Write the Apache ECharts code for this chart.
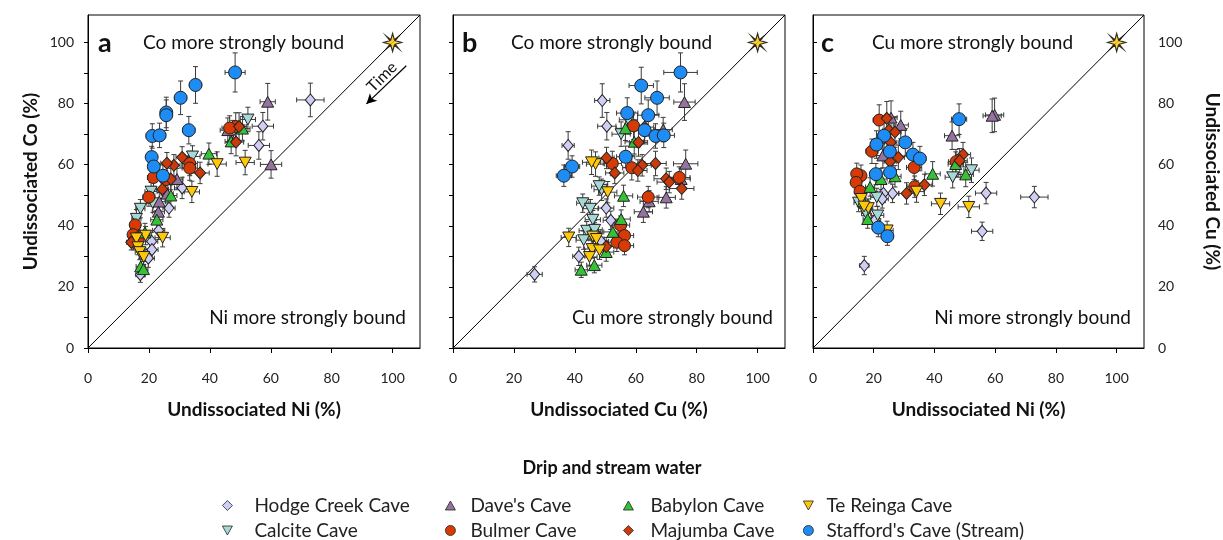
<!DOCTYPE html>
<html><head><meta charset="utf-8">
<script src="https://cdn.jsdelivr.net/npm/echarts@6/dist/echarts.min.js"></script>
<style>html,body{margin:0;padding:0;background:#fff}#c{width:1223px;height:540px}</style>
</head><body><div id="c"></div>
<script>
// ---------- DATA: [x, y, xErr, yErr] ----------
// Panel a: Ni (x) vs Co (y)
const A_HODGE = [[73.0,81.2,4.5,5.5],[57.4,72.6,3.5,4.5],[56.1,66.3,3.5,4.5],[30.9,52.4,2.5,3.5],[26.6,45.8,2,3],[23.2,38.5,2,3],[20.9,34.9,2,3],[21.0,32.2,2,3],[19.8,29.4,2,3],[17.2,24.0,1.5,2.5]];
const A_CALCITE = [[52.5,74.8,2.5,4],[34.3,62.7,2.5,3.5],[21.3,47.4,2,3],[17.2,45.6,1.5,3],[20.7,51.2,2,3],[15.9,42.3,1.5,3],[47.5,70.5,2,4],[15.5,38.5,1.5,3]];
const A_DAVES = [[59.0,80.6,2.5,6],[60.1,60.1,3.5,4.5],[45.9,71.3,2.5,4],[29.2,55.3,2,3.5],[23.4,47.9,2,3],[23.1,44.6,2,3],[26.0,50.5,2,3]];
const A_BULMER = [[48.5,72.5,3,4.5],[46.5,72.0,2.5,4],[33.4,60.4,2.5,4],[33.4,58.9,2.5,4],[20.0,49.4,2,3],[21.5,55.8,2,3],[25.5,55.1,2,3],[15.5,40.3,1.5,3],[14.8,37.1,1.5,2.5],[15.0,34.6,1.5,2.5],[16.5,36.0,1.5,2.5]];
const A_BABYLON = [[39.7,63.6,2.5,3.5],[50.7,71.8,2.5,4],[47.0,67.6,2,4],[27.2,49.9,2,3.5],[22.6,42.0,2,3],[18.7,37.8,1.5,3],[17.3,26.7,1.5,2.5],[18.2,25.8,1.5,2.5]];
const A_MAJUMBA = [[49.6,72.5,2.5,4.5],[48.6,67.4,2.5,4.5],[30.9,62.4,2,3.5],[36.8,57.3,3,3.5],[28.2,59.8,2,3.5],[25.9,60.5,2,3.5],[27.2,55.3,2,3.5],[24.4,52.0,2,3],[14.2,34.6,1.5,2.5]];
const A_TEREINGA = [[51.6,60.7,3,4],[42.4,60.2,3,4],[34.1,51.1,2.5,3.5],[24.5,36.1,2.5,3],[18.9,36.8,1.5,3],[15.9,35.9,1.5,2.5],[16.4,33.0,1.5,2.5],[17.0,31.4,1.5,2.5],[18.3,29.8,1.5,2.5]];
const A_STAFFORD = [[48.3,90.2,3.3,6.4],[35.3,86.1,2,6],[30.4,81.9,2,5.5],[25.7,77.1,1.5,5],[25.7,76.2,1.5,5],[33.1,71.3,2,4.5],[21.1,69.4,2,4],[23.5,69.6,2,4],[20.9,62.5,1.5,3.5],[21.6,59.4,1.5,3.5],[24.6,56.4,2,3.5]];
// Panel b: Cu (x) vs Co (y)
const B_HODGE = [[49.0,81.0,2.5,5.5],[50.5,72.6,3,4.5],[37.8,66.3,2,4.5],[50.3,45.8,2.5,3],[51.8,41.8,2.5,3],[48.6,34.9,2.5,3],[41.3,30.0,2,3],[26.8,24.1,2.5,2.5],[46.5,38.0,2,3]];
const B_CALCITE = [[57.6,74.7,3,4],[55.2,70.0,3,4],[48.8,51.8,2.5,3.5],[42.6,47.4,2,3],[45.1,45.6,2.5,3],[45.9,42.0,2.5,3],[43.9,38.4,2.5,3],[42.9,35.3,2.5,3],[46.5,38.7,2.5,3],[48.0,53.0,2.5,3]];
const B_DAVES = [[76.0,80.5,3.5,6],[76.4,60.3,4,4.5],[70.0,49.3,3,3.5],[62.5,44.6,3,3.5],[64.4,48.0,3,3.5],[74.9,55.3,3,3.5],[69.0,71.5,3,4]];
const B_BULMER = [[59.3,72.7,3,4.5],[52.3,60.4,3,4],[58.7,59.0,3,4],[64.1,49.4,3.5,3.5],[74.3,55.8,3.5,3.5],[55.0,40.2,3,3],[56.3,36.8,3,3],[53.8,34.6,3,3],[56.3,33.5,3,3]];
const B_BABYLON = [[56.6,71.9,3,4],[56.0,49.8,3,3.5],[55.2,42.2,3,3],[52.5,38.0,3,3],[42.1,25.6,2,2.5],[46.4,27.1,2.5,2.5],[50.3,31.4,2.5,3],[59.5,67.5,3,4]];
const B_MAJUMBA = [[62.9,72.3,3,4.5],[60.9,67.3,3,4.5],[50.4,62.2,2.5,3.5],[53.1,57.3,3,3.5],[62.1,59.8,3,3.5],[60.7,58.1,3,3.5],[66.5,60.4,3.5,4],[70.0,55.4,4,3.5],[71.0,54.3,4,3.5],[75.1,52.2,4,3.5],[50.3,33.2,2.5,3]];
const B_TEREINGA = [[46.8,60.2,3,4],[50.8,51.0,3,3.5],[38.0,36.2,2.5,3],[45.9,36.5,2.5,3],[47.1,35.7,2.5,3],[45.7,32.4,2.5,3],[48.1,32.0,2.5,3],[44.8,29.8,2.5,3],[45.5,60.8,3,4]];
const B_STAFFORD = [[74.7,90.2,5.5,6.4],[61.8,85.9,4,6],[67.0,81.9,4,5.5],[57.2,76.9,3.5,5],[64.1,76.2,3.5,5],[62.9,71.3,3.5,4.5],[66.5,69.4,3.5,4],[69.2,69.6,3.5,4],[56.7,62.6,3,3.5],[39.1,59.4,2.5,3.5],[36.4,56.4,2.5,3.5]];
// Panel c: Ni (x) vs Cu (y)
const C_HODGE = [[72.9,49.4,4.5,3.5],[57.0,50.7,3.5,3.5],[55.7,38.2,3.5,3],[16.9,27.0,1.5,3],[26.2,50.6,2,3],[23.2,50.6,2,3],[22.8,48.8,2,3],[20.3,41.7,2,3]];
const C_CALCITE = [[52.2,58.2,2.5,4],[46.0,55.9,2.5,3.5],[21.0,49.3,2,3],[21.3,43.4,2,3],[15.0,47.6,1.5,3],[17.5,44.0,1.5,3]];
const C_DAVES = [[59.8,76.3,3,5.5],[59.0,76.0,3,5.5],[45.8,69.5,2.5,4.5],[28.9,73.0,2.5,4.5],[25.7,75.4,2,5.5],[23.0,63.0,2,4]];
const C_BULMER = [[21.8,74.6,2,5],[19.4,64.4,2,4],[33.3,59.1,2.5,4],[15.8,56.4,1.5,3.5],[14.4,57.0,1.5,3.5],[14.2,54.2,1.5,3.5],[33.5,52.8,2.5,3.5],[47.1,61.0,2.5,4],[15.5,51.3,1.5,3]];
const C_BABYLON = [[39.4,57.0,2.5,4],[27.0,56.2,2,3.5],[22.4,55.3,2,3.5],[18.8,52.7,1.5,3],[18.0,42.2,1.5,3],[50.3,56.8,2.5,4],[47.0,60.2,2.5,4],[16.5,48.0,1.5,3]];
const C_MAJUMBA = [[24.3,75.2,2,5.5],[25.0,71.3,2,5],[27.0,70.7,2,5],[25.6,67.3,2,4.5],[28.1,62.4,2,4],[25.4,61.0,2,4],[49.4,63.3,2.5,4],[48.3,61.3,2.5,4],[36.7,53.4,2.5,3.5],[30.8,50.6,2.5,3.5]];
const C_TEREINGA = [[42.0,47.2,3,3.5],[51.3,46.2,3.5,3.5],[34.1,51.2,2.5,3.5],[15.9,48.8,1.5,3],[18.2,45.8,1.5,3],[16.8,46.3,1.5,3],[24.4,38.5,2,3]];
const C_STAFFORD = [[48.1,74.9,2.5,5],[23.4,69.5,2,4.5],[20.9,66.6,2,4.5],[30.4,67.3,2,4.5],[25.3,64.3,2,4],[32.9,63.3,2,4],[35.2,62.0,2,4],[20.7,56.9,2,3.5],[25.4,57.5,2,3.5],[21.5,39.4,2,3],[24.5,36.6,2,3]];

const END_MEMBER = [[100, 100]];
const X_TICKS = [0, 20, 40, 60, 80, 100];
const Y_TICKS = [0, 10, 20, 30, 40, 50, 60, 70, 80, 90, 100];
const X_NAMES = ['Undissociated Ni (%)', 'Undissociated Cu (%)', 'Undissociated Ni (%)'];
const Y_NAMES = ['Undissociated Co (%)', '', 'Undissociated Cu (%)'];
const CAVE_NAMES = ['Hodge Creek Cave', 'Calcite Cave', "Dave's Cave", 'Bulmer Cave', 'Babylon Cave', 'Majumba Cave', 'Te Reinga Cave', "Stafford's Cave (Stream)"];
const PANEL_DATA = [
  [A_HODGE, A_CALCITE, A_DAVES, A_BULMER, A_BABYLON, A_MAJUMBA, A_TEREINGA, A_STAFFORD],
  [B_HODGE, B_CALCITE, B_DAVES, B_BULMER, B_BABYLON, B_MAJUMBA, B_TEREINGA, B_STAFFORD],
  [C_HODGE, C_CALCITE, C_DAVES, C_BULMER, C_BABYLON, C_MAJUMBA, C_TEREINGA, C_STAFFORD]
];

// ---------- STYLE ----------
const FONT = 'Lato';
const DOWN = 'path://M0,0 L10,0 L5,9 Z';
const UP = 'path://M5,0 L10,9 L0,9 Z';
const STAR = 'path://M0,-10 L2,-3 L7,-7 L3,-2 L10,0 L3,2 L7,7 L2,3 L0,10 L-2,3 L-7,7 L-3,2 L-10,0 L-3,-2 L-7,-7 L-2,-3 Z';
const CAVE_STYLE = [
  {symbol: 'diamond', size: [10, 12], color: '#cfcff5'},
  {symbol: DOWN, size: 12, color: '#a6d8d6'},
  {symbol: UP, size: 12, color: '#94739f'},
  {symbol: 'circle', size: 12, color: '#d83a06'},
  {symbol: UP, size: 12, color: '#36c236'},
  {symbol: 'diamond', size: [11, 12], color: '#cc3a0a'},
  {symbol: DOWN, size: 12, color: '#ffc90a'},
  {symbol: 'circle', size: 13, color: '#1e8cf5'}
];
const GRID_LEFT = [88, 453, 813];
const GRID_W = 332, GRID_TOP = 15, GRID_H = 333;
// legend slots: [cave index, icon left, text offset, top]
const LEGEND_SLOTS = [[0, 217, 17, 491], [2, 440, 10, 491], [4, 618, 12, 491], [6, 798, 8, 491],
                      [1, 217, 17, 516], [3, 440, 10, 516], [5, 618, 12, 516], [7, 798, 8, 516]];

function errRender(params, api) {
  const x = api.value(0), y = api.value(1), xe = api.value(2), ye = api.value(3);
  const l = api.coord([x - xe, y]), r = api.coord([x + xe, y]);
  const t = api.coord([x, y + ye]), b = api.coord([x, y - ye]);
  const cap = 2.5;
  const st = {stroke: '#3a3a3a', lineWidth: 1};
  const L = (x1, y1, x2, y2) => ({type: 'line', shape: {x1, y1, x2, y2}, style: st});
  return {type: 'group', children: [
    L(l[0], l[1], r[0], r[1]), L(t[0], t[1], b[0], b[1]),
    L(l[0], l[1] - cap, l[0], l[1] + cap), L(r[0], r[1] - cap, r[0], r[1] + cap),
    L(t[0] - cap, t[1], t[0] + cap, t[1]), L(b[0] - cap, b[1], b[0] + cap, b[1])
  ]};
}

const grids = [], xAxes = [], yAxes = [], series = [];
for (let p = 0; p < 3; p++) {
  grids.push({left: GRID_LEFT[p], top: GRID_TOP, width: GRID_W, height: GRID_H, show: true, borderColor: '#000', borderWidth: 1, backgroundColor: 'transparent'});
  xAxes.push({type: 'value', gridIndex: p, min: 0, max: 109, interval: 20,
    axisLine: {show: true, lineStyle: {color: '#000'}},
    axisTick: {show: true, length: 5, customValues: X_TICKS, lineStyle: {color: '#000'}},
    axisLabel: {margin: 23, fontSize: 14, color: '#222', fontFamily: FONT, customValues: X_TICKS},
    splitLine: {show: false},
    name: X_NAMES[p], nameLocation: 'middle', nameGap: 52,
    nameTextStyle: {fontSize: 19, fontWeight: 'bold', color: '#111', fontFamily: FONT}});
  yAxes.push({type: 'value', gridIndex: p, min: 0, max: 109, interval: 10,
    position: p === 2 ? 'right' : 'left',
    axisLine: {show: true, lineStyle: {color: '#000'}},
    axisTick: {show: true, length: 4, customValues: Y_TICKS, lineStyle: {color: '#000'}},
    axisLabel: {show: p !== 1, margin: 14, fontSize: 14, color: '#222', fontFamily: FONT, customValues: X_TICKS},
    splitLine: {show: false},
    name: Y_NAMES[p], nameLocation: 'middle', nameGap: p === 2 ? 59 : 48,
    nameRotate: p === 2 ? -90 : 90,
    nameTextStyle: {fontSize: 19, fontWeight: 'bold', color: '#111', fontFamily: FONT}});
  const diag = {type: 'line', xAxisIndex: p, yAxisIndex: p, data: [[0, 0], [109, 109]], symbol: 'none', silent: true, z: 1,
    lineStyle: {color: '#000', width: 1}};
  if (p === 0) {
    diag.markLine = {silent: true, symbol: ['none', 'arrow'], symbolSize: [8, 10], label: {show: false},
      lineStyle: {color: '#000', width: 1.2, type: 'solid'},
      data: [[{coord: [104.5, 92.4]}, {coord: [91.4, 79.9]}]]};
  }
  series.push(diag);
  PANEL_DATA[p].forEach((d, i) => {
    series.push({type: 'custom', name: '_err' + i, xAxisIndex: p, yAxisIndex: p, renderItem: errRender,
      data: d, encode: {x: 0, y: 1}, z: 2, silent: true});
  });
  PANEL_DATA[p].forEach((d, i) => {
    const s = CAVE_STYLE[i];
    series.push({type: 'scatter', name: CAVE_NAMES[i], xAxisIndex: p, yAxisIndex: p,
      symbol: s.symbol, symbolSize: s.size, symbolKeepAspect: true,
      itemStyle: {color: s.color, borderColor: '#222', borderWidth: 1, opacity: 1},
      data: d.map(v => [v[0], v[1]]), z: 3});
  });
  series.push({type: 'scatter', name: '_end', xAxisIndex: p, yAxisIndex: p, symbol: STAR, symbolSize: 18,
    itemStyle: {color: '#ffc90a', borderColor: '#000', borderWidth: 1.2}, data: END_MEMBER, z: 4, silent: true});
}

const legends = LEGEND_SLOTS.map(([ci, left, pad, top]) => ({
  orient: 'horizontal', left: left, top: top, itemWidth: 10, itemHeight: 10, selectedMode: false,
  data: [CAVE_NAMES[ci]], itemStyle: {borderWidth: 0.8},
  textStyle: {fontSize: 19, color: '#222', fontFamily: FONT, padding: [0, 0, 0, pad]}
}));

const txt = (text, x, y, opts) => ({type: 'text', x, y, silent: true,
  style: Object.assign({text, fontSize: 19, fontFamily: FONT, fill: '#111', align: 'left', verticalAlign: 'middle'}, opts || {})});

const option = {
  animation: false,
  backgroundColor: '#fff',
  grid: grids, xAxis: xAxes, yAxis: yAxes, series: series,
  legend: legends,
  graphic: [
    txt('a', 98, 43, {fontSize: 27, fontWeight: 'bold'}),
    txt('b', 462, 43, {fontSize: 27, fontWeight: 'bold'}),
    txt('c', 821, 43, {fontSize: 27, fontWeight: 'bold'}),
    txt('Co more strongly bound', 143, 43),
    txt('Co more strongly bound', 511, 43),
    txt('Cu more strongly bound', 872, 43),
    txt('Ni more strongly bound', 406, 318, {align: 'right'}),
    txt('Cu more strongly bound', 773, 318, {align: 'right'}),
    txt('Ni more strongly bound', 1131, 318, {align: 'right'}),
    {type: 'text', x: 382, y: 77, rotation: Math.PI / 4, silent: true,
      style: {text: 'Time', fontSize: 16, fontFamily: FONT, fill: '#111', align: 'center', verticalAlign: 'middle'}},
    txt('Drip and stream water', 612, 468, {align: 'center', fontWeight: 'bold', fontSize: 18})
  ]
};
const chart = echarts.init(document.getElementById('c'), null, {renderer: 'canvas'});
chart.setOption(option);
</script></body></html>
